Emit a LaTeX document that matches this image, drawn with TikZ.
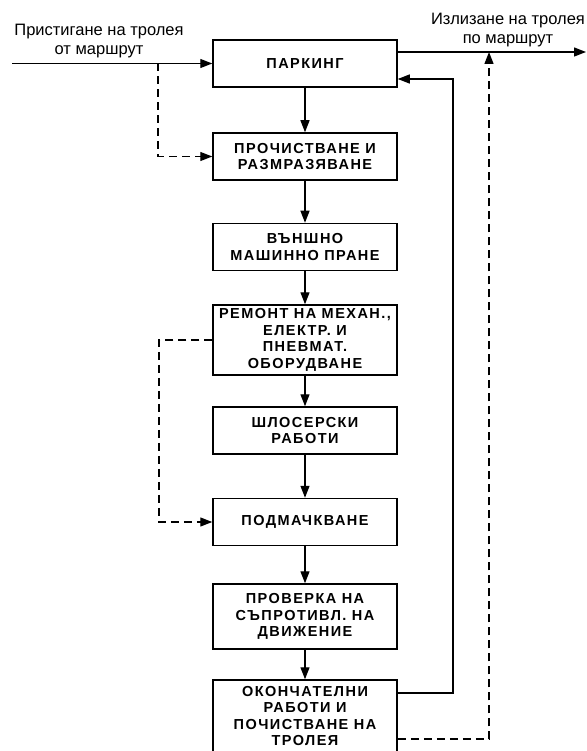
\documentclass[tikz,border=0pt]{standalone}
\usepackage{fontspec}
\setmainfont{Liberation Sans}
\newfontfamily\boxfont{Liberation Sans}[LetterSpace=10]
\usetikzlibrary{arrows.meta}
\tikzset{
  stage/.style={draw, line width=1.5pt, minimum width=184pt, minimum height=47pt,
    inner sep=0pt, align=center, font=\boxfont\bfseries\fontsize{14.5}{16.5}\selectfont},
  flow/.style={line width=1.3pt, -{Triangle[length=12pt,width=9pt]}},
  alt/.style={flow, dash pattern=on 8pt off 5pt},
  lbl/.style={align=center, inner sep=0pt, font=\fontsize{16.5}{19}\selectfont}
}
\begin{document}
\begin{tikzpicture}[x=1pt,y=-1pt]
    \useasboundingbox (0,0) rectangle (586,751);
    % Etapi
    \node[stage] (park)   at (305,63.5)  {ПАРКИНГ};
    \node[stage] (clean)  at (305,156.5) {ПРОЧИСТВАНЕ И\\РАЗМРАЗЯВАНЕ};
    \node[stage] (wash)   at (305,247)   {ВЪНШНО\\МАШИННО ПРАНЕ};
    \node[stage, minimum height=70pt] (repair) at (305,340)
        {РЕМОНТ НА МЕХАН.,\\ЕЛЕКТР. И\\ПНЕВМАТ.\\ОБОРУДВАНЕ};
    \node[stage] (lock)   at (305,430.5) {ШЛОСЕРСКИ\\РАБОТИ};
    \node[stage] (soak)   at (305,522)   {ПОДМАЧКВАНЕ};
    \node[stage, minimum height=65pt] (check) at (305,616.5)
        {ПРОВЕРКА НА\\СЪПРОТИВЛ. НА\\ДВИЖЕНИЕ};
    \node[stage, minimum height=72pt] (final) at (305,716)
        {ОКОНЧАТЕЛНИ\\РАБОТИ И\\ПОЧИСТВАНЕ НА\\ТРОЛЕЯ};
    % Vhod i izhod
    \coordinate (in) at (12,63.5);
    \coordinate (split) at (158,63.5);
    \coordinate (out) at (586,52);
    \coordinate (outsplit) at (489,52);
    \coordinate (ret) at (453,400);
    \coordinate (bypass) at (159,430);
    \node[lbl] (inlbl)  at (99,41)  {Пристигане на тролея\\от маршрут};
    \node[lbl] (outlbl) at (508,30) {Излизане на тролея\\по маршрут};
    \draw[flow] (in) -- (park.west);
    \draw[flow] (park.east |- out) -- (out);
    % Posledovatelnost
    \draw[flow] (park) -- (clean);
    \draw[flow] (clean) -- (wash);
    \draw[flow] (wash) -- (repair);
    \draw[flow] (repair) -- (lock);
    \draw[flow] (lock) -- (soak);
    \draw[flow] (soak) -- (check);
    \draw[flow] (check) -- (final);
    % Obratni vrazki
    \draw[flow] ([yshift=23pt]final.east) -| (ret) |- ([yshift=-15.5pt]park.east);
    \draw[alt] ([yshift=-23pt]final.east) -| (outsplit);
    \draw[alt] (split) |- (clean.west);
    \draw[alt] (repair.west) -| (bypass) |- (soak.west);
\end{tikzpicture}
\end{document}
